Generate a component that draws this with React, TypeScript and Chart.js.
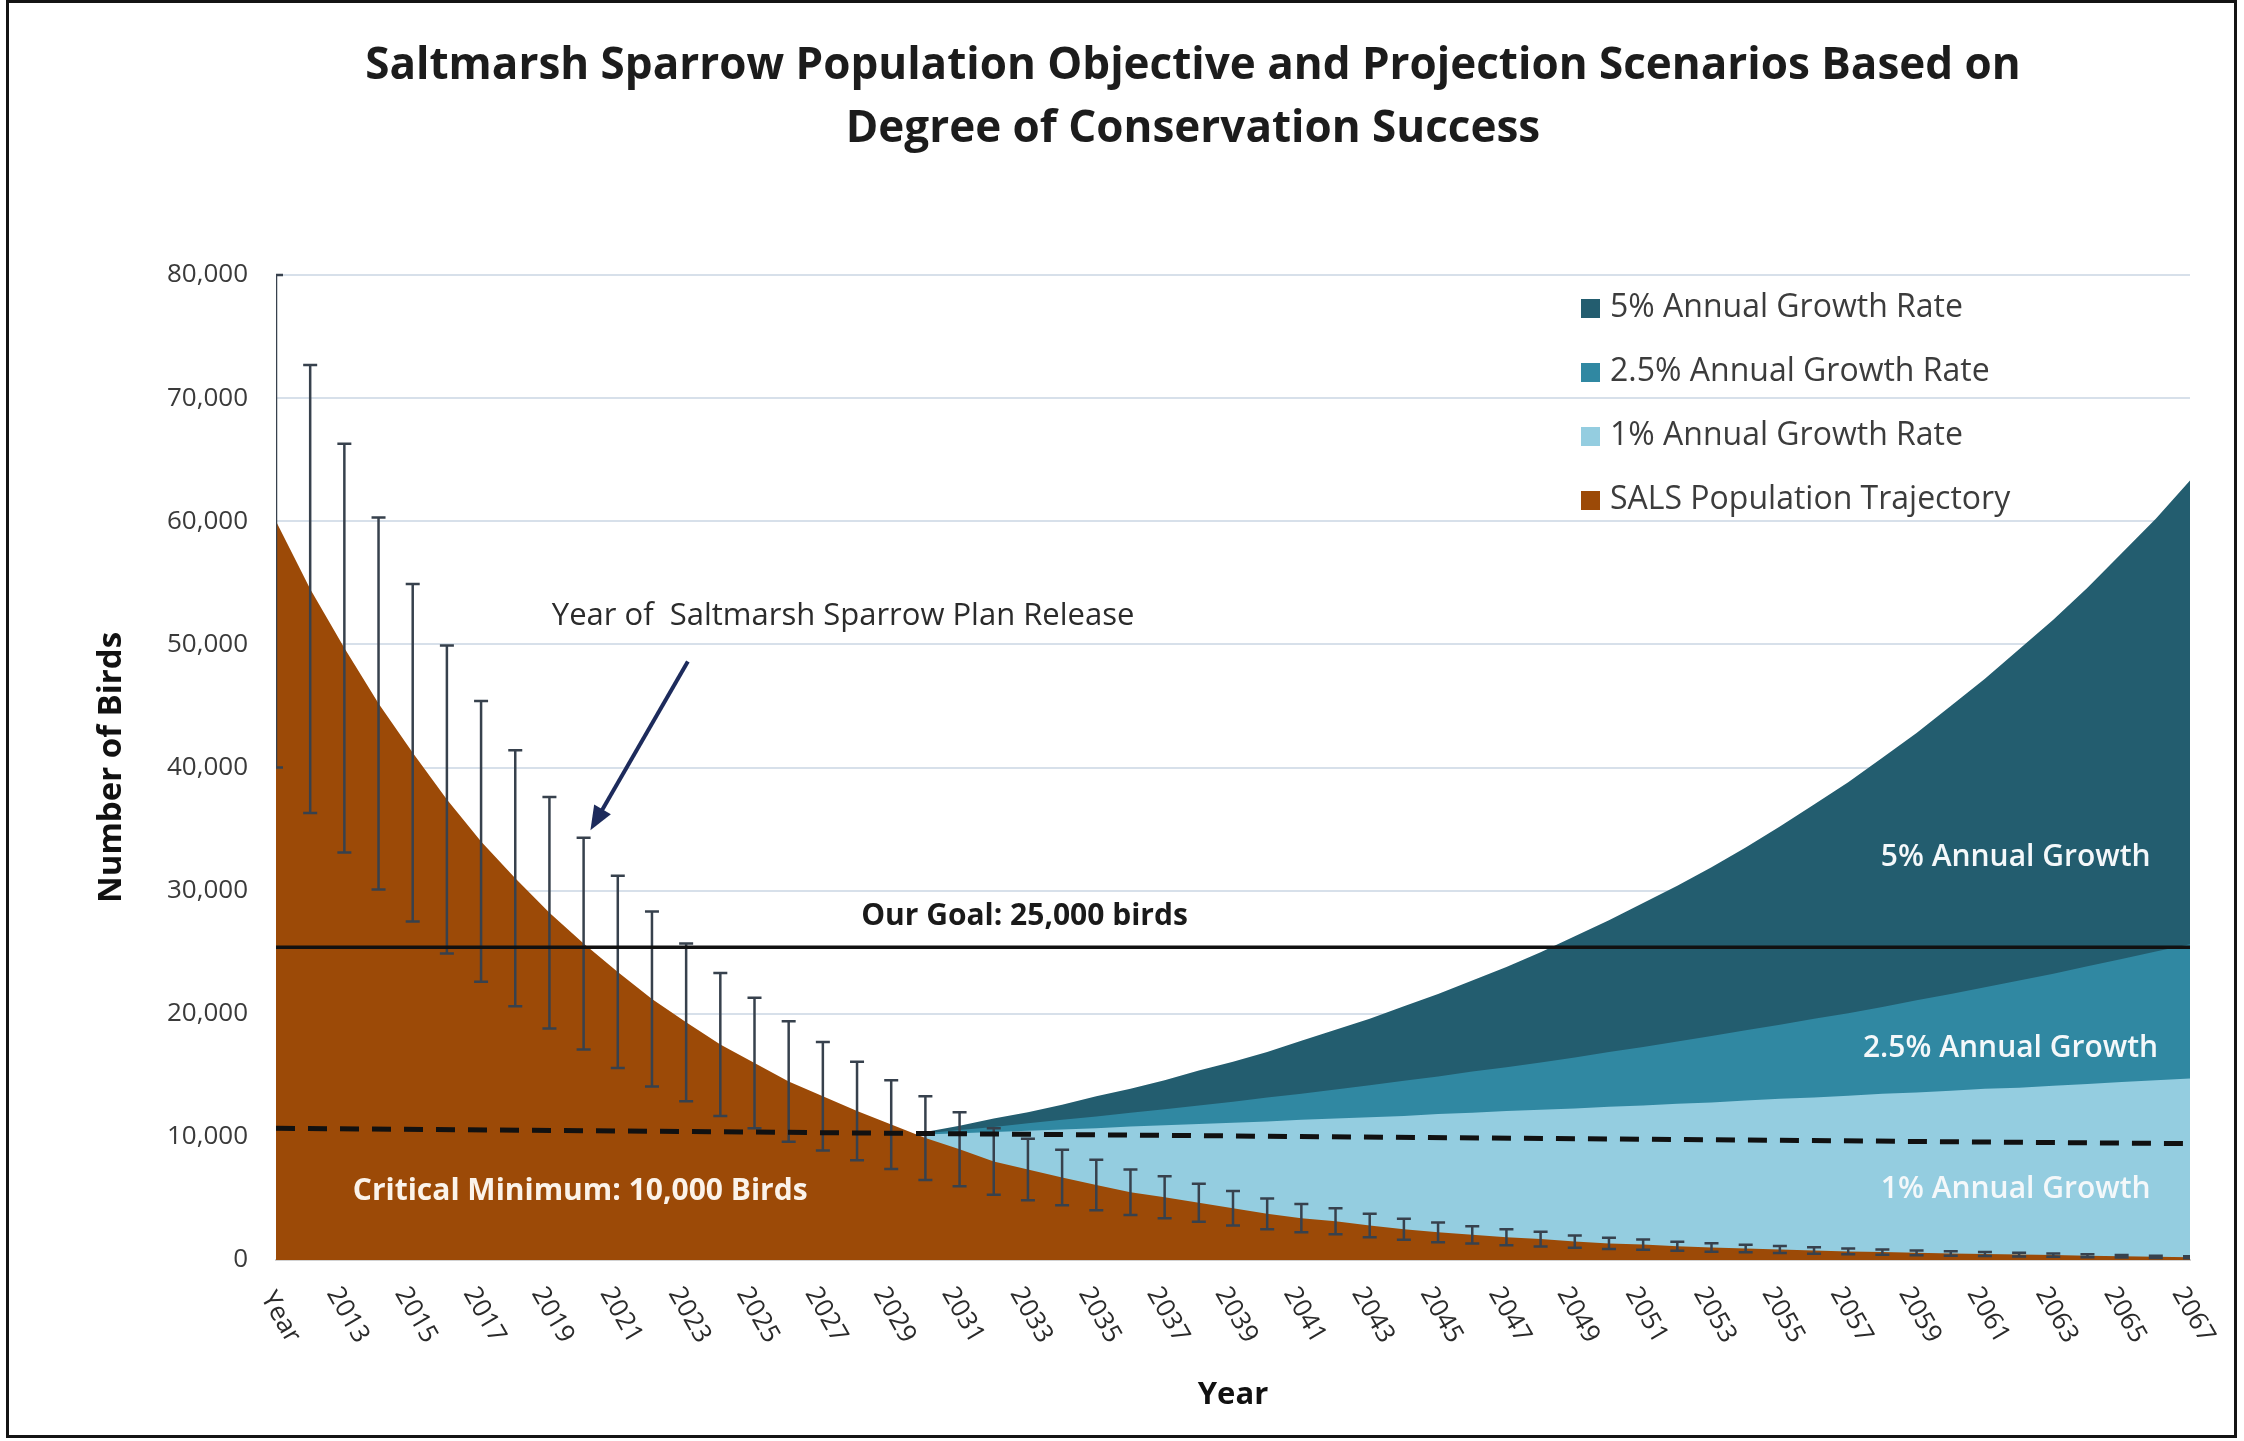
import React, { useEffect, useRef } from 'react';
import { Chart, registerables } from 'chart.js';

Chart.register(...registerables);

// ---------- data ----------
const categories = [
  'Year', '2012', '2013', '2014', '2015', '2016', '2017', '2018', '2019', '2020',
  '2021', '2022', '2023', '2024', '2025', '2026', '2027', '2028', '2029', '2030',
  '2031', '2032', '2033', '2034', '2035', '2036', '2037', '2038', '2039', '2040',
  '2041', '2042', '2043', '2044', '2045', '2046', '2047', '2048', '2049', '2050',
  '2051', '2052', '2053', '2054', '2055', '2056', '2057', '2058', '2059', '2060',
  '2061', '2062', '2063', '2064', '2065', '2066', '2067',
];

const salsValues = [
  60000, 54500, 49700, 45200, 41200, 37400, 34000, 31000, 28200, 25700,
  23400, 21200, 19300, 17500, 16000, 14500, 13300, 12100, 11000, 9900,
  9000, 8000, 7350, 6700, 6100, 5500, 5100, 4650, 4200, 3750,
  3400, 3150, 2800, 2500, 2250, 2050, 1850, 1700, 1500, 1350,
  1250, 1120, 1020, 930, 850, 770, 700, 640, 580, 530,
  480, 440, 400, 340, 300, 260, 230,
];

const salsErrors = [
  20000, 18200, 16600, 15100, 13700, 12500, 11400, 10400, 9400, 8600,
  7800, 7100, 6400, 5800, 5300, 4900, 4400, 4000, 3600, 3400,
  3000, 2700, 2500, 2250, 2050, 1850, 1700, 1550, 1400, 1250,
  1150, 1050, 950, 850, 800, 700, 650, 600, 500, 450,
  420, 370, 340, 310, 280, 260, 230, 210, 190, 180,
  160, 150, 130, 120, 100, 90, 80,
];

const scenarioStartYear = '2030';

const growth5Values = [
  10400, 10900, 11500, 12000, 12600, 13300, 13900, 14600, 15400, 16100,
  16900, 17800, 18700, 19600, 20600, 21600, 22700, 23800, 25000, 26300,
  27600, 29000, 30400, 31900, 33500, 35200, 37000, 38800, 40800, 42800,
  45000, 47200, 49600, 52000, 54600, 57400, 60200, 63300,
];

const growth25Values = [
  10300, 10550, 10800, 11100, 11400, 11650, 11950, 12250, 12550, 12850,
  13200, 13500, 13850, 14200, 14550, 14900, 15300, 15650, 16050, 16450,
  16900, 17300, 17750, 18200, 18650, 19100, 19600, 20050, 20550, 21100,
  21600, 22150, 22700, 23250, 23850, 24450, 25050, 25650,
];

const growth1Values = [
  10200, 10300, 10400, 10500, 10600, 10700, 10850, 10950, 11050, 11150,
  11250, 11400, 11500, 11600, 11700, 11850, 11950, 12100, 12200, 12300,
  12450, 12550, 12700, 12800, 12950, 13100, 13200, 13350, 13500, 13600,
  13750, 13900, 14000, 14150, 14300, 14450, 14600, 14750,
];

const goalValue = 25400;
const criticalStartValue = 10700;
const criticalEndValue = 9450;

const yTicks = [0, 10000, 20000, 30000, 40000, 50000, 60000, 70000, 80000];

const seriesLabels = [
  '5% Annual Growth Rate',
  '2.5% Annual Growth Rate',
  '1% Annual Growth Rate',
  'SALS Population Trajectory',
];

const chartTitle = [
  'Saltmarsh Sparrow Population Objective and Projection Scenarios Based on',
  'Degree of Conservation Success',
];

// ---------- styles ----------
const COLORS = {
  g5: '#235D6F',
  g25: '#3088A2',
  g1: '#94CDE0',
  sals: '#9C4A07',
  err: '#37414d',
  grid: '#d7e0ea',
  text: '#3a3a3a',
};
const FONT = '"Open Sans", "DejaVu Sans", sans-serif';

function padScenario(values: number[]): (number | null)[] {
  const start = categories.indexOf(scenarioStartYear);
  return categories.map((_, i) => (i < start ? null : values[i - start] ?? null));
}

const overlayPlugin = {
  id: 'overlay',
  afterDatasetDraw(chart: any, args: any) {
    if (args.index !== 3) return;
    const { ctx, chartArea } = chart;
    const xs = chart.scales.x;
    const ys = chart.scales.y;
    ctx.save();
    ctx.beginPath();
    ctx.rect(chartArea.left, chartArea.top - 2, chartArea.right - chartArea.left, chartArea.bottom - chartArea.top + 4);
    ctx.clip();
    ctx.strokeStyle = COLORS.err;
    ctx.lineWidth = 2.5;
    const cap = 7;
    salsValues.forEach((v, i) => {
      const x = xs.getPixelForValue(i);
      const yt = ys.getPixelForValue(v + salsErrors[i]);
      const yb = ys.getPixelForValue(v - salsErrors[i]);
      ctx.beginPath();
      ctx.moveTo(x, yt);
      ctx.lineTo(x, yb);
      ctx.moveTo(x - cap, yt);
      ctx.lineTo(x + cap, yt);
      ctx.moveTo(x - cap, yb);
      ctx.lineTo(x + cap, yb);
      ctx.stroke();
    });
    ctx.restore();
  },
  afterDatasetsDraw(chart: any) {
    const { ctx, chartArea } = chart;
    const xs = chart.scales.x;
    const ys = chart.scales.y;
    const px = (i: number) => xs.getPixelForValue(0) + (xs.getPixelForValue(1) - xs.getPixelForValue(0)) * i;
    const py = (v: number) => ys.getPixelForValue(v);
    ctx.save();
    ctx.textBaseline = 'middle';

    // annotation: plan release
    ctx.font = `31px ${FONT}`;
    ctx.fillStyle = '#2b2b2b';
    ctx.textAlign = 'left';
    ctx.fillText('Year of  Saltmarsh Sparrow Plan Release', px(8.07), py(52300));

    // arrow
    const x1 = px(12.05), y1 = py(48600), x2 = px(9.2), y2 = py(34900);
    ctx.strokeStyle = '#1d2b5c';
    ctx.fillStyle = '#1d2b5c';
    ctx.lineWidth = 4;
    const ang = Math.atan2(y2 - y1, x2 - x1);
    const hl = 26;
    ctx.beginPath();
    ctx.moveTo(x1, y1);
    ctx.lineTo(x2 - Math.cos(ang) * hl * 0.8, y2 - Math.sin(ang) * hl * 0.8);
    ctx.stroke();
    ctx.beginPath();
    ctx.moveTo(x2, y2);
    ctx.lineTo(x2 - hl * Math.cos(ang - 0.38), y2 - hl * Math.sin(ang - 0.38));
    ctx.lineTo(x2 - hl * Math.cos(ang + 0.38), y2 - hl * Math.sin(ang + 0.38));
    ctx.closePath();
    ctx.fill();

    // goal
    ctx.textAlign = 'center';
    ctx.fillStyle = '#1a1a1a';
    ctx.font = `bold 30px ${FONT}`;
    ctx.fillText('Our Goal: 25,000 birds', px(21.9), py(27900));

    // critical
    ctx.fillStyle = '#fbf3ea';
    ctx.fillText('Critical Minimum: 10,000 Birds', px(8.9), py(5600));

    // growth labels
    ctx.fillStyle = '#f4f8fa';
    ctx.font = `600 30px ${FONT}`;
    ctx.fillText('5% Annual Growth', px(50.9), py(32700));
    ctx.fillText('2.5% Annual Growth', px(50.75), py(17200));
    ctx.fillText('1% Annual Growth', px(50.9), py(5700));

    // legend
    const lx = chartArea.left + 1305;
    const ly0 = chartArea.top + 33;
    ctx.textAlign = 'left';
    ctx.font = `32px ${FONT}`;
    const swatches = [COLORS.g5, COLORS.g25, COLORS.g1, COLORS.sals];
    chart.data.datasets.slice(0, 4).forEach((ds: any, i: number) => {
      const cy = ly0 + i * 64;
      ctx.fillStyle = swatches[i];
      ctx.fillRect(lx, cy - 9, 19, 19);
      ctx.fillStyle = '#3c3c3c';
      ctx.fillText(ds.label, lx + 29, cy);
    });
    ctx.restore();
  },
};

export default function App() {
  const canvasRef = useRef<HTMLCanvasElement | null>(null);

  useEffect(() => {
    document.body.style.margin = '0';
    const canvas = canvasRef.current;
    if (!canvas) return;
    const criticalData = categories.map((_, i) =>
      i === 0 ? criticalStartValue : i === categories.length - 1 ? criticalEndValue : null
    );
    const chart = new Chart(canvas, {
      type: 'line',
      data: {
        labels: categories,
        datasets: [
          {
            label: seriesLabels[0],
            data: padScenario(growth5Values),
            backgroundColor: COLORS.g5,
            borderWidth: 0,
            fill: 'origin',
            pointRadius: 0,
            order: 4,
          },
          {
            label: seriesLabels[1],
            data: padScenario(growth25Values),
            backgroundColor: COLORS.g25,
            borderWidth: 0,
            fill: 'origin',
            pointRadius: 0,
            order: 3,
          },
          {
            label: seriesLabels[2],
            data: padScenario(growth1Values),
            backgroundColor: COLORS.g1,
            borderWidth: 0,
            fill: 'origin',
            pointRadius: 0,
            order: 2,
          },
          {
            label: seriesLabels[3],
            data: salsValues,
            backgroundColor: COLORS.sals,
            borderWidth: 0,
            fill: 'origin',
            pointRadius: 0,
            order: 1,
          },
          {
            label: 'Our Goal',
            data: categories.map(() => goalValue),
            borderColor: '#111111',
            borderWidth: 3.5,
            fill: false,
            pointRadius: 0,
            order: 0,
          },
          {
            label: 'Critical Minimum',
            data: criticalData,
            borderColor: '#111111',
            borderWidth: 5,
            borderDash: [19, 13],
            fill: false,
            pointRadius: 0,
            spanGaps: true,
            order: 0,
          },
        ],
      },
      options: {
        responsive: false,
        animation: false,
        devicePixelRatio: 1,
        layout: { padding: { left: 0, right: 54, top: 275, bottom: 10 } },
        plugins: {
          legend: { display: false },
          title: { display: false },
          tooltip: { enabled: false },
        },
        elements: { line: { tension: 0 } },
        scales: {
          x: {
            type: 'category',
            offset: false,
            grid: { display: false, drawTicks: false },
            border: { display: true, color: '#d2d2d2', width: 2 },
            ticks: {
              autoSkip: false,
              minRotation: -60,
              maxRotation: -60,
              padding: 73,
              labelOffset: 18,
              color: '#2a2a2a',
              font: { family: FONT, size: 26 },
              callback: (_v: any, idx: number) => (idx % 2 === 0 ? categories[idx] : null),
            },
            title: {
              display: true,
              text: 'Year',
              color: '#111111',
              font: { family: FONT, size: 31, weight: 'bold' },
              padding: { top: 0, bottom: 17 },
            },
            afterFit: (scale: any) => {
              scale.height = 171;
            },
          },
          y: {
            min: 0,
            max: 80000,
            afterBuildTicks: (scale: any) => {
              scale.ticks = yTicks.map((v) => ({ value: v }));
            },
            grid: { color: COLORS.grid, lineWidth: 2, drawTicks: false },
            border: { display: false },
            ticks: {
              padding: 28,
              color: COLORS.text,
              font: { family: FONT, size: 26 },
              callback: (v: any) => Number(v).toLocaleString('en-US'),
            },
            title: {
              display: true,
              text: 'Number of Birds',
              color: '#111111',
              font: { family: FONT, size: 33, weight: 'bold' },
              padding: { top: 92, bottom: 0 },
            },
            afterFit: (scale: any) => {
              scale.width = 276;
            },
          },
        },
      },
      plugins: [overlayPlugin],
    });
    return () => chart.destroy();
  }, []);

  return (
    <div style={{ position: 'fixed', left: 0, top: 0, width: 2244, height: 1441, background: '#ffffff', overflow: 'hidden' }}>
      <canvas ref={canvasRef} width={2244} height={1441} style={{ position: 'absolute', left: 0, top: 0 }} />
      <div
        style={{
          position: 'absolute',
          left: 193,
          top: 31,
          width: 2000,
          textAlign: 'center',
          fontFamily: FONT,
          fontWeight: 'bold',
          fontSize: 44,
          lineHeight: '63px',
          color: '#1c1c1c',
        }}
      >
        {chartTitle.map((t) => (
          <div key={t}>{t}</div>
        ))}
      </div>
      <div
        style={{
          position: 'absolute',
          left: 6,
          top: 0,
          width: 2231,
          height: 1438,
          border: '3px solid #141414',
          boxSizing: 'border-box',
          pointerEvents: 'none',
        }}
      />
    </div>
  );
}
